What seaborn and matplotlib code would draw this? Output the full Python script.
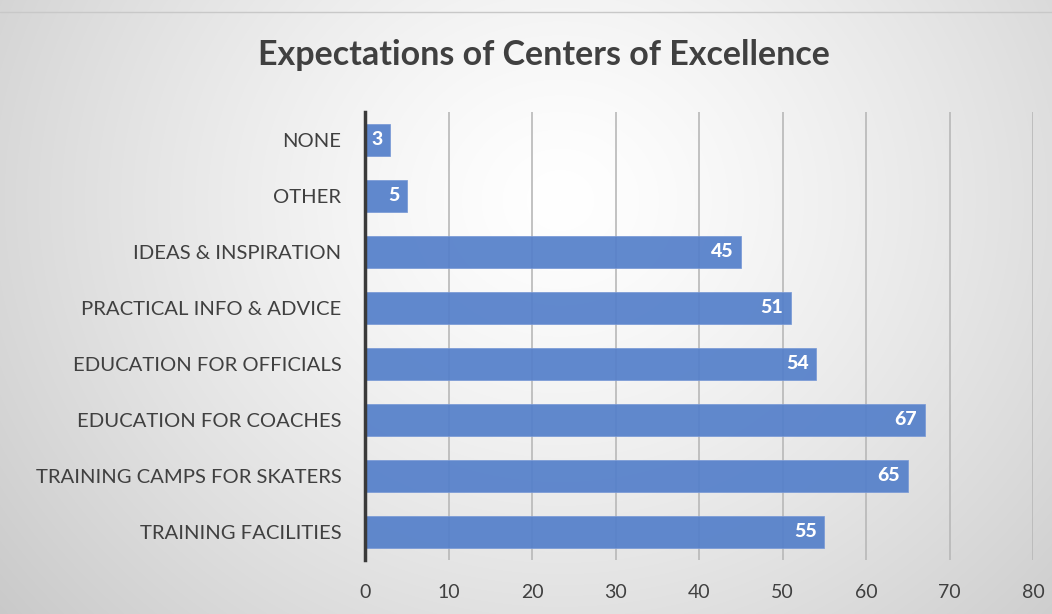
import numpy as np
import pandas as pd
import matplotlib
matplotlib.use("Agg")
import matplotlib.pyplot as plt
import seaborn as sns

categories = ["NONE", "OTHER", "IDEAS & INSPIRATION", "PRACTICAL INFO & ADVICE",
              "EDUCATION FOR OFFICIALS", "EDUCATION FOR COACHES",
              "TRAINING CAMPS FOR SKATERS", "TRAINING FACILITIES"]
values = [3, 5, 45, 51, 54, 67, 65, 55]
x_ticks = [0, 10, 20, 30, 40, 50, 60, 70, 80]
title = "Expectations of Centers of Excellence"

sns.set_theme(style="white")
plt.rcParams['font.family'] = ['Lato', 'DejaVu Sans']

df = pd.DataFrame({"category": categories, "value": values})

fig = plt.figure(figsize=(10.52, 6.14), dpi=100)

# radial gradient background
bg = fig.add_axes([0, 0, 1, 1], zorder=-10)
yy, xx = np.mgrid[0:614, 0:1052]
cx, cy = 560, 200
r = np.sqrt(((xx - cx) / 1.0) ** 2 + ((yy - cy) / 0.9) ** 2)
r = np.clip(r / 750, 0, 1)
g = 1.0 - 0.22 * r ** 1.3
img = np.dstack([g, g, g])
bg.imshow(img, aspect='auto', extent=[0, 1052, 614, 0])
bg.plot([0, 1052], [12, 12], color='#c8c8c8', lw=1)
bg.set_xlim(0, 1052); bg.set_ylim(614, 0)
bg.axis('off')

ax = fig.add_axes([0.347, 0.088, 0.635, 0.73])
ax.patch.set_alpha(0)
ax.xaxis.grid(True, color='#b8b8b8', lw=1.2, zorder=1)
ax.set_axisbelow(True)
sns.barplot(data=df, y="category", x="value", orient="h", color="#5580CA",
            saturation=1, width=0.57, ax=ax, edgecolor="#7a9ad6", linewidth=0.6,
            alpha=0.93)

ax.set_xlim(0, 80)
ax.set_xticks(x_ticks)
ax.set_xticklabels([str(t) for t in x_ticks], fontsize=14, color='#404040')
ax.tick_params(axis='y', labelsize=14.6, labelcolor='#404040', length=0, pad=17)
ax.tick_params(axis='x', length=0, pad=17)
ax.set_xlabel("")
ax.set_ylabel("")
for s in ['top', 'right', 'bottom']:
    ax.spines[s].set_visible(False)
ax.spines['left'].set_color('#3a3a3a')
ax.spines['left'].set_linewidth(2.5)
ax.spines['left'].set_zorder(5)

for i, v in enumerate(values):
    ax.text(v - 0.9, i, str(v), ha='right', va='center', color='white',
            fontsize=14, fontweight='black', zorder=6)

fig.text(0.517, 0.91, title, ha='center', va='center', fontsize=24.5,
         fontweight='bold', color='#404040')

fig.savefig("out.png", dpi=100)
